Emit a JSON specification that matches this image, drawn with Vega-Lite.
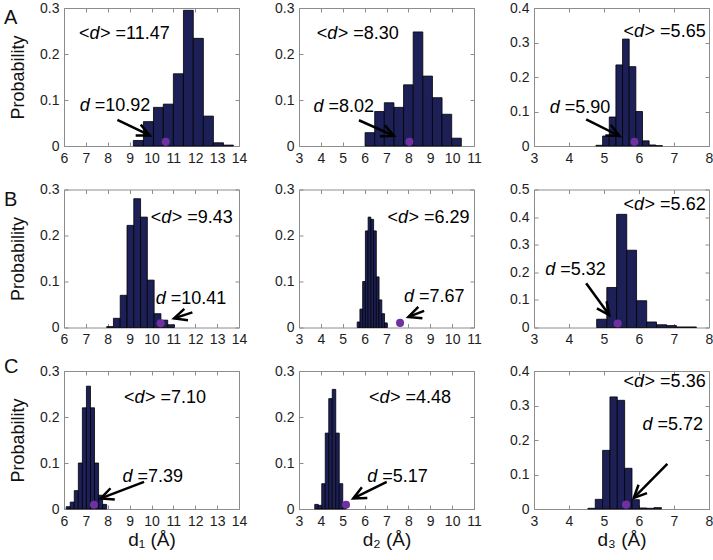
{
"$schema": "https://vega.github.io/schema/vega-lite/v6.json",
"background": "white",
"padding": {"left": 3, "top": 0, "right": 0, "bottom": 0},
"datasets": {
"bars": [
{"p":"A1","x0":9.17,"x1":9.63,"prob":0.012},{"p":"A1","x0":9.63,"x1":10.09,"prob":0.053},{"p":"A1","x0":10.09,"x1":10.54,"prob":0.084},{"p":"A1","x0":10.54,"x1":11.0,"prob":0.091},{"p":"A1","x0":11.0,"x1":11.46,"prob":0.157},{"p":"A1","x0":11.46,"x1":11.91,"prob":0.295},{"p":"A1","x0":11.91,"x1":12.37,"prob":0.234},{"p":"A1","x0":12.37,"x1":12.83,"prob":0.065},{"p":"A1","x0":12.83,"x1":13.29,"prob":0.007},{"p":"A1","x0":13.29,"x1":13.74,"prob":0.002},
{"p":"A2","x0":6.02,"x1":6.46,"prob":0.029},{"p":"A2","x0":6.46,"x1":6.9,"prob":0.075},{"p":"A2","x0":6.9,"x1":7.34,"prob":0.094},{"p":"A2","x0":7.34,"x1":7.78,"prob":0.084},{"p":"A2","x0":7.78,"x1":8.22,"prob":0.133},{"p":"A2","x0":8.22,"x1":8.66,"prob":0.248},{"p":"A2","x0":8.66,"x1":9.1,"prob":0.152},{"p":"A2","x0":9.1,"x1":9.54,"prob":0.105},{"p":"A2","x0":9.54,"x1":9.98,"prob":0.069},{"p":"A2","x0":9.98,"x1":10.42,"prob":0.017},
{"p":"A3","x0":4.77,"x1":4.96,"prob":0.002},{"p":"A3","x0":4.96,"x1":5.15,"prob":0.029},{"p":"A3","x0":5.15,"x1":5.34,"prob":0.084},{"p":"A3","x0":5.34,"x1":5.53,"prob":0.235},{"p":"A3","x0":5.53,"x1":5.72,"prob":0.31},{"p":"A3","x0":5.72,"x1":5.91,"prob":0.23},{"p":"A3","x0":5.91,"x1":6.1,"prob":0.1},{"p":"A3","x0":6.1,"x1":6.29,"prob":0.015},{"p":"A3","x0":6.29,"x1":6.48,"prob":0.003},{"p":"A3","x0":6.48,"x1":6.67,"prob":0.001},
{"p":"B1","x0":7.95,"x1":8.26,"prob":0.002},{"p":"B1","x0":8.26,"x1":8.57,"prob":0.02},{"p":"B1","x0":8.57,"x1":8.88,"prob":0.07},{"p":"B1","x0":8.88,"x1":9.19,"prob":0.222},{"p":"B1","x0":9.19,"x1":9.5,"prob":0.28},{"p":"B1","x0":9.5,"x1":9.81,"prob":0.24},{"p":"B1","x0":9.81,"x1":10.12,"prob":0.103},{"p":"B1","x0":10.12,"x1":10.43,"prob":0.03},{"p":"B1","x0":10.43,"x1":10.74,"prob":0.016},{"p":"B1","x0":10.74,"x1":11.05,"prob":0.006},
{"p":"B2","x0":5.66,"x1":5.785,"prob":0.012},{"p":"B2","x0":5.785,"x1":5.91,"prob":0.04},{"p":"B2","x0":5.91,"x1":6.035,"prob":0.1},{"p":"B2","x0":6.035,"x1":6.16,"prob":0.21},{"p":"B2","x0":6.16,"x1":6.285,"prob":0.24},{"p":"B2","x0":6.285,"x1":6.41,"prob":0.235},{"p":"B2","x0":6.41,"x1":6.535,"prob":0.21},{"p":"B2","x0":6.535,"x1":6.66,"prob":0.11},{"p":"B2","x0":6.66,"x1":6.785,"prob":0.06},{"p":"B2","x0":6.785,"x1":6.91,"prob":0.03},{"p":"B2","x0":6.91,"x1":7.035,"prob":0.01},
{"p":"B3","x0":4.79,"x1":5.08,"prob":0.03},{"p":"B3","x0":5.08,"x1":5.36,"prob":0.145},{"p":"B3","x0":5.36,"x1":5.65,"prob":0.41},{"p":"B3","x0":5.65,"x1":5.93,"prob":0.28},{"p":"B3","x0":5.93,"x1":6.22,"prob":0.097},{"p":"B3","x0":6.22,"x1":6.5,"prob":0.02},{"p":"B3","x0":6.5,"x1":6.79,"prob":0.01},{"p":"B3","x0":6.79,"x1":7.07,"prob":0.007},{"p":"B3","x0":7.07,"x1":7.36,"prob":0.002},{"p":"B3","x0":7.36,"x1":7.64,"prob":0.002},
{"p":"C1","x0":6.1,"x1":6.285,"prob":0.005},{"p":"C1","x0":6.285,"x1":6.47,"prob":0.015},{"p":"C1","x0":6.47,"x1":6.655,"prob":0.04},{"p":"C1","x0":6.655,"x1":6.84,"prob":0.1},{"p":"C1","x0":6.84,"x1":7.025,"prob":0.22},{"p":"C1","x0":7.025,"x1":7.21,"prob":0.267},{"p":"C1","x0":7.21,"x1":7.395,"prob":0.22},{"p":"C1","x0":7.395,"x1":7.58,"prob":0.1},{"p":"C1","x0":7.58,"x1":7.765,"prob":0.03},{"p":"C1","x0":7.765,"x1":7.95,"prob":0.01},
{"p":"C2","x0":3.72,"x1":3.88,"prob":0.01},{"p":"C2","x0":3.88,"x1":4.04,"prob":0.008},{"p":"C2","x0":4.04,"x1":4.2,"prob":0.055},{"p":"C2","x0":4.2,"x1":4.36,"prob":0.165},{"p":"C2","x0":4.36,"x1":4.52,"prob":0.24},{"p":"C2","x0":4.52,"x1":4.68,"prob":0.26},{"p":"C2","x0":4.68,"x1":4.84,"prob":0.165},{"p":"C2","x0":4.84,"x1":5.0,"prob":0.055},{"p":"C2","x0":5.0,"x1":5.16,"prob":0.01},
{"p":"C3","x0":4.54,"x1":4.75,"prob":0.002},{"p":"C3","x0":4.75,"x1":4.96,"prob":0.028},{"p":"C3","x0":4.96,"x1":5.17,"prob":0.17},{"p":"C3","x0":5.17,"x1":5.38,"prob":0.325},{"p":"C3","x0":5.38,"x1":5.59,"prob":0.315},{"p":"C3","x0":5.59,"x1":5.8,"prob":0.118},{"p":"C3","x0":5.8,"x1":6.01,"prob":0.027},{"p":"C3","x0":6.01,"x1":6.22,"prob":0.003},{"p":"C3","x0":6.22,"x1":6.43,"prob":0.002},{"p":"C3","x0":6.43,"x1":6.64,"prob":0.004}
],
"dots": [
{"p":"A1","x":10.65,"y":0.009},{"p":"A2","x":8.05,"y":0.009},{"p":"A3","x":5.87,"y":0.012},
{"p":"B1","x":10.42,"y":0.009},{"p":"B2","x":7.62,"y":0.01},{"p":"B3","x":5.39,"y":0.0146},
{"p":"C1","x":7.37,"y":0.0094},{"p":"C2","x":5.15,"y":0.0094},{"p":"C3","x":5.63,"y":0.0126}
],
"arrows": [
{"p":"A1","xs":8.44,"ys":0.057,"xt":9.92,"yt":0.023},
{"p":"A2","xs":5.74,"ys":0.056,"xt":7.34,"yt":0.022},
{"p":"A3","xs":4.49,"ys":0.0775,"xt":5.44,"yt":0.029},
{"p":"B1","xs":11.87,"ys":0.033,"xt":11.03,"yt":0.0197},
{"p":"B2","xs":8.72,"ys":0.036,"xt":8.0,"yt":0.023},
{"p":"B3","xs":4.49,"ys":0.16,"xt":5.15,"yt":0.045},
{"p":"C1","xs":9.66,"ys":0.059,"xt":7.68,"yt":0.023},
{"p":"C2","xs":7.01,"ys":0.059,"xt":5.48,"yt":0.023},
{"p":"C3","xs":6.81,"ys":0.131,"xt":5.85,"yt":0.032}
],
"notes": [
{"p":"A1","kind":"mean","x":6.69,"y":0.2435,"v":"> =11.47"},{"p":"A1","kind":"obs","x":6.72,"y":0.087,"v":"=10.92"},
{"p":"A2","kind":"mean","x":3.81,"y":0.243,"v":"> =8.30"},{"p":"A2","kind":"obs","x":3.66,"y":0.085,"v":"=8.02"},
{"p":"A3","kind":"mean","x":5.56,"y":0.329,"v":"> =5.65"},{"p":"A3","kind":"obs","x":3.45,"y":0.111,"v":"=5.90"},
{"p":"B1","kind":"mean","x":9.96,"y":0.238,"v":"> =9.43"},{"p":"B1","kind":"obs","x":10.19,"y":0.063,"v":"=10.41"},
{"p":"B2","kind":"mean","x":7.04,"y":0.237,"v":"> =6.29"},{"p":"B2","kind":"obs","x":7.8,"y":0.067,"v":"=7.67"},
{"p":"B3","kind":"mean","x":5.56,"y":0.443,"v":"> =5.62"},{"p":"B3","kind":"obs","x":3.32,"y":0.209,"v":"=5.32"},
{"p":"C1","kind":"mean","x":8.74,"y":0.242,"v":"> =7.10"},{"p":"C1","kind":"obs","x":8.67,"y":0.0687,"v":"=7.39"},
{"p":"C2","kind":"mean","x":6.2,"y":0.242,"v":"> =4.48"},{"p":"C2","kind":"obs","x":6.12,"y":0.07,"v":"=5.17"},
{"p":"C3","kind":"mean","x":5.56,"y":0.368,"v":"> =5.36"},{"p":"C3","kind":"obs","x":6.1,"y":0.244,"v":"=5.72"}
]
},
"columns": 3,
"spacing": {"row": 43.5, "column": 60},
"bounds": "flush",
"concat": [
{"width":175,"height":138,
 "title":{"text":"A","dx":-60,"dy":47,"baseline":"alphabetic"},
 "layer":[
  {"data":{"name":"bars"},"transform":[{"filter":"datum.p==='A1'"}],"mark":{"type":"bar","fill":"#1c2057","stroke":"#000000","strokeWidth":0.8},
   "encoding":{"x":{"field":"x0","type":"quantitative","scale":{"domain":[6,14],"nice":false,"zero":false},"axis":{"orient":"bottom","values":[6,7,8,9,10,11,12,13,14],"format":"~g","title":null}},"x2":{"field":"x1"},
   "y":{"field":"prob","type":"quantitative","scale":{"domain":[0,0.3],"nice":false},"axis":{"orient":"left","values":[0,0.1,0.2,0.3],"format":"~g","title":"Probability"}},"y2":{"datum":0}}},
  {"data":{"name":"dots"},"transform":[{"filter":"datum.p==='A1'"}],"mark":{"type":"point","filled":true,"color":"#7030a0","size":65,"opacity":1},
   "encoding":{"x":{"field":"x","type":"quantitative","axis":{"orient":"top","values":[6,7,8,9,10,11,12,13,14],"labels":false,"title":null}},"y":{"field":"y","type":"quantitative","axis":{"orient":"right","values":[0,0.1,0.2,0.3],"labels":false,"title":null}}}},
  {"data":{"name":"arrows"},"transform":[{"filter":"datum.p==='A1'"}],"mark":{"type":"rule","color":"#000000","strokeWidth":2.5},
   "encoding":{"x":{"field":"xs","type":"quantitative","axis":null},"y":{"field":"ys","type":"quantitative","axis":null},"x2":{"field":"xt"},"y2":{"field":"yt"}}},
  {"data":{"name":"arrows"},"transform":[{"filter":"datum.p==='A1'"}],"mark":{"type":"point","shape":"M-1,-0.47L0,0L-1,0.47","angle":25,"filled":false,"color":"#000000","strokeWidth":2.5,"size":650,"opacity":1},
   "encoding":{"x":{"field":"xt","type":"quantitative","axis":null},"y":{"field":"yt","type":"quantitative","axis":null}}},
  {"data":{"name":"notes"},"transform":[{"filter":"datum.p==='A1' && datum.kind==='mean'"}],"mark":{"type":"text","align":"left","baseline":"middle","fontSize":18,"color":"#000000"},
   "encoding":{"x":{"field":"x","type":"quantitative","axis":null},"y":{"field":"y","type":"quantitative","axis":null},"text":{"value":"<"}}},
  {"data":{"name":"notes"},"transform":[{"filter":"datum.p==='A1' && datum.kind==='mean'"}],"mark":{"type":"text","align":"left","baseline":"middle","fontSize":18,"fontStyle":"italic","dx":10.5,"color":"#000000"},
   "encoding":{"x":{"field":"x","type":"quantitative","axis":null},"y":{"field":"y","type":"quantitative","axis":null},"text":{"value":"d"}}},
  {"data":{"name":"notes"},"transform":[{"filter":"datum.p==='A1' && datum.kind==='mean'"}],"mark":{"type":"text","align":"left","baseline":"middle","fontSize":18,"dx":21,"color":"#000000"},
   "encoding":{"x":{"field":"x","type":"quantitative","axis":null},"y":{"field":"y","type":"quantitative","axis":null},"text":{"field":"v"}}},
  {"data":{"name":"notes"},"transform":[{"filter":"datum.p==='A1' && datum.kind==='obs'"}],"mark":{"type":"text","align":"left","baseline":"middle","fontSize":18,"fontStyle":"italic","color":"#000000"},
   "encoding":{"x":{"field":"x","type":"quantitative","axis":null},"y":{"field":"y","type":"quantitative","axis":null},"text":{"value":"d"}}},
  {"data":{"name":"notes"},"transform":[{"filter":"datum.p==='A1' && datum.kind==='obs'"}],"mark":{"type":"text","align":"left","baseline":"middle","fontSize":18,"dx":15,"color":"#000000"},
   "encoding":{"x":{"field":"x","type":"quantitative","axis":null},"y":{"field":"y","type":"quantitative","axis":null},"text":{"field":"v"}}}
 ],
 "resolve":{"axis":{"x":"independent","y":"independent"}}},
{"width":175,"height":138,
 "layer":[
  {"data":{"name":"bars"},"transform":[{"filter":"datum.p==='A2'"}],"mark":{"type":"bar","fill":"#1c2057","stroke":"#000000","strokeWidth":0.8},
   "encoding":{"x":{"field":"x0","type":"quantitative","scale":{"domain":[3,11],"nice":false,"zero":false},"axis":{"orient":"bottom","values":[3,4,5,6,7,8,9,10,11],"format":"~g","title":null}},"x2":{"field":"x1"},
   "y":{"field":"prob","type":"quantitative","scale":{"domain":[0,0.3],"nice":false},"axis":{"orient":"left","values":[0,0.1,0.2,0.3],"format":"~g","title":null}},"y2":{"datum":0}}},
  {"data":{"name":"dots"},"transform":[{"filter":"datum.p==='A2'"}],"mark":{"type":"point","filled":true,"color":"#7030a0","size":65,"opacity":1},
   "encoding":{"x":{"field":"x","type":"quantitative","axis":{"orient":"top","values":[3,4,5,6,7,8,9,10,11],"labels":false,"title":null}},"y":{"field":"y","type":"quantitative","axis":{"orient":"right","values":[0,0.1,0.2,0.3],"labels":false,"title":null}}}},
  {"data":{"name":"arrows"},"transform":[{"filter":"datum.p==='A2'"}],"mark":{"type":"rule","color":"#000000","strokeWidth":2.5},
   "encoding":{"x":{"field":"xs","type":"quantitative","axis":null},"y":{"field":"ys","type":"quantitative","axis":null},"x2":{"field":"xt"},"y2":{"field":"yt"}}},
  {"data":{"name":"arrows"},"transform":[{"filter":"datum.p==='A2'"}],"mark":{"type":"point","shape":"M-1,-0.47L0,0L-1,0.47","angle":24,"filled":false,"color":"#000000","strokeWidth":2.5,"size":650,"opacity":1},
   "encoding":{"x":{"field":"xt","type":"quantitative","axis":null},"y":{"field":"yt","type":"quantitative","axis":null}}},
  {"data":{"name":"notes"},"transform":[{"filter":"datum.p==='A2' && datum.kind==='mean'"}],"mark":{"type":"text","align":"left","baseline":"middle","fontSize":18,"color":"#000000"},
   "encoding":{"x":{"field":"x","type":"quantitative","axis":null},"y":{"field":"y","type":"quantitative","axis":null},"text":{"value":"<"}}},
  {"data":{"name":"notes"},"transform":[{"filter":"datum.p==='A2' && datum.kind==='mean'"}],"mark":{"type":"text","align":"left","baseline":"middle","fontSize":18,"fontStyle":"italic","dx":10.5,"color":"#000000"},
   "encoding":{"x":{"field":"x","type":"quantitative","axis":null},"y":{"field":"y","type":"quantitative","axis":null},"text":{"value":"d"}}},
  {"data":{"name":"notes"},"transform":[{"filter":"datum.p==='A2' && datum.kind==='mean'"}],"mark":{"type":"text","align":"left","baseline":"middle","fontSize":18,"dx":21,"color":"#000000"},
   "encoding":{"x":{"field":"x","type":"quantitative","axis":null},"y":{"field":"y","type":"quantitative","axis":null},"text":{"field":"v"}}},
  {"data":{"name":"notes"},"transform":[{"filter":"datum.p==='A2' && datum.kind==='obs'"}],"mark":{"type":"text","align":"left","baseline":"middle","fontSize":18,"fontStyle":"italic","color":"#000000"},
   "encoding":{"x":{"field":"x","type":"quantitative","axis":null},"y":{"field":"y","type":"quantitative","axis":null},"text":{"value":"d"}}},
  {"data":{"name":"notes"},"transform":[{"filter":"datum.p==='A2' && datum.kind==='obs'"}],"mark":{"type":"text","align":"left","baseline":"middle","fontSize":18,"dx":15,"color":"#000000"},
   "encoding":{"x":{"field":"x","type":"quantitative","axis":null},"y":{"field":"y","type":"quantitative","axis":null},"text":{"field":"v"}}}
 ],
 "resolve":{"axis":{"x":"independent","y":"independent"}}},
{"width":175,"height":138,
 "layer":[
  {"data":{"name":"bars"},"transform":[{"filter":"datum.p==='A3'"}],"mark":{"type":"bar","fill":"#1c2057","stroke":"#000000","strokeWidth":0.8},
   "encoding":{"x":{"field":"x0","type":"quantitative","scale":{"domain":[3,8],"nice":false,"zero":false},"axis":{"orient":"bottom","values":[3,4,5,6,7,8],"format":"~g","title":null}},"x2":{"field":"x1"},
   "y":{"field":"prob","type":"quantitative","scale":{"domain":[0,0.4],"nice":false},"axis":{"orient":"left","values":[0,0.1,0.2,0.3,0.4],"format":"~g","title":null}},"y2":{"datum":0}}},
  {"data":{"name":"dots"},"transform":[{"filter":"datum.p==='A3'"}],"mark":{"type":"point","filled":true,"color":"#7030a0","size":65,"opacity":1},
   "encoding":{"x":{"field":"x","type":"quantitative","axis":{"orient":"top","values":[3,4,5,6,7,8],"labels":false,"title":null}},"y":{"field":"y","type":"quantitative","axis":{"orient":"right","values":[0,0.1,0.2,0.3,0.4],"labels":false,"title":null}}}},
  {"data":{"name":"arrows"},"transform":[{"filter":"datum.p==='A3'"}],"mark":{"type":"rule","color":"#000000","strokeWidth":2.5},
   "encoding":{"x":{"field":"xs","type":"quantitative","axis":null},"y":{"field":"ys","type":"quantitative","axis":null},"x2":{"field":"xt"},"y2":{"field":"yt"}}},
  {"data":{"name":"arrows"},"transform":[{"filter":"datum.p==='A3'"}],"mark":{"type":"point","shape":"M-1,-0.47L0,0L-1,0.47","angle":27,"filled":false,"color":"#000000","strokeWidth":2.5,"size":650,"opacity":1},
   "encoding":{"x":{"field":"xt","type":"quantitative","axis":null},"y":{"field":"yt","type":"quantitative","axis":null}}},
  {"data":{"name":"notes"},"transform":[{"filter":"datum.p==='A3' && datum.kind==='mean'"}],"mark":{"type":"text","align":"left","baseline":"middle","fontSize":18,"color":"#000000"},
   "encoding":{"x":{"field":"x","type":"quantitative","axis":null},"y":{"field":"y","type":"quantitative","axis":null},"text":{"value":"<"}}},
  {"data":{"name":"notes"},"transform":[{"filter":"datum.p==='A3' && datum.kind==='mean'"}],"mark":{"type":"text","align":"left","baseline":"middle","fontSize":18,"fontStyle":"italic","dx":10.5,"color":"#000000"},
   "encoding":{"x":{"field":"x","type":"quantitative","axis":null},"y":{"field":"y","type":"quantitative","axis":null},"text":{"value":"d"}}},
  {"data":{"name":"notes"},"transform":[{"filter":"datum.p==='A3' && datum.kind==='mean'"}],"mark":{"type":"text","align":"left","baseline":"middle","fontSize":18,"dx":21,"color":"#000000"},
   "encoding":{"x":{"field":"x","type":"quantitative","axis":null},"y":{"field":"y","type":"quantitative","axis":null},"text":{"field":"v"}}},
  {"data":{"name":"notes"},"transform":[{"filter":"datum.p==='A3' && datum.kind==='obs'"}],"mark":{"type":"text","align":"left","baseline":"middle","fontSize":18,"fontStyle":"italic","color":"#000000"},
   "encoding":{"x":{"field":"x","type":"quantitative","axis":null},"y":{"field":"y","type":"quantitative","axis":null},"text":{"value":"d"}}},
  {"data":{"name":"notes"},"transform":[{"filter":"datum.p==='A3' && datum.kind==='obs'"}],"mark":{"type":"text","align":"left","baseline":"middle","fontSize":18,"dx":15,"color":"#000000"},
   "encoding":{"x":{"field":"x","type":"quantitative","axis":null},"y":{"field":"y","type":"quantitative","axis":null},"text":{"field":"v"}}}
 ],
 "resolve":{"axis":{"x":"independent","y":"independent"}}},
{"width":175,"height":138,
 "title":{"text":"B","dx":-60,"dy":47,"baseline":"alphabetic"},
 "layer":[
  {"data":{"name":"bars"},"transform":[{"filter":"datum.p==='B1'"}],"mark":{"type":"bar","fill":"#1c2057","stroke":"#000000","strokeWidth":0.8},
   "encoding":{"x":{"field":"x0","type":"quantitative","scale":{"domain":[6,14],"nice":false,"zero":false},"axis":{"orient":"bottom","values":[6,7,8,9,10,11,12,13,14],"format":"~g","title":null}},"x2":{"field":"x1"},
   "y":{"field":"prob","type":"quantitative","scale":{"domain":[0,0.3],"nice":false},"axis":{"orient":"left","values":[0,0.1,0.2,0.3],"format":"~g","title":"Probability"}},"y2":{"datum":0}}},
  {"data":{"name":"dots"},"transform":[{"filter":"datum.p==='B1'"}],"mark":{"type":"point","filled":true,"color":"#7030a0","size":65,"opacity":1},
   "encoding":{"x":{"field":"x","type":"quantitative","axis":{"orient":"top","values":[6,7,8,9,10,11,12,13,14],"labels":false,"title":null}},"y":{"field":"y","type":"quantitative","axis":{"orient":"right","values":[0,0.1,0.2,0.3],"labels":false,"title":null}}}},
  {"data":{"name":"arrows"},"transform":[{"filter":"datum.p==='B1'"}],"mark":{"type":"rule","color":"#000000","strokeWidth":2.5},
   "encoding":{"x":{"field":"xs","type":"quantitative","axis":null},"y":{"field":"ys","type":"quantitative","axis":null},"x2":{"field":"xt"},"y2":{"field":"yt"}}},
  {"data":{"name":"arrows"},"transform":[{"filter":"datum.p==='B1'"}],"mark":{"type":"point","shape":"M-1,-0.47L0,0L-1,0.47","angle":162,"filled":false,"color":"#000000","strokeWidth":2.5,"size":650,"opacity":1},
   "encoding":{"x":{"field":"xt","type":"quantitative","axis":null},"y":{"field":"yt","type":"quantitative","axis":null}}},
  {"data":{"name":"notes"},"transform":[{"filter":"datum.p==='B1' && datum.kind==='mean'"}],"mark":{"type":"text","align":"left","baseline":"middle","fontSize":18,"color":"#000000"},
   "encoding":{"x":{"field":"x","type":"quantitative","axis":null},"y":{"field":"y","type":"quantitative","axis":null},"text":{"value":"<"}}},
  {"data":{"name":"notes"},"transform":[{"filter":"datum.p==='B1' && datum.kind==='mean'"}],"mark":{"type":"text","align":"left","baseline":"middle","fontSize":18,"fontStyle":"italic","dx":10.5,"color":"#000000"},
   "encoding":{"x":{"field":"x","type":"quantitative","axis":null},"y":{"field":"y","type":"quantitative","axis":null},"text":{"value":"d"}}},
  {"data":{"name":"notes"},"transform":[{"filter":"datum.p==='B1' && datum.kind==='mean'"}],"mark":{"type":"text","align":"left","baseline":"middle","fontSize":18,"dx":21,"color":"#000000"},
   "encoding":{"x":{"field":"x","type":"quantitative","axis":null},"y":{"field":"y","type":"quantitative","axis":null},"text":{"field":"v"}}},
  {"data":{"name":"notes"},"transform":[{"filter":"datum.p==='B1' && datum.kind==='obs'"}],"mark":{"type":"text","align":"left","baseline":"middle","fontSize":18,"fontStyle":"italic","color":"#000000"},
   "encoding":{"x":{"field":"x","type":"quantitative","axis":null},"y":{"field":"y","type":"quantitative","axis":null},"text":{"value":"d"}}},
  {"data":{"name":"notes"},"transform":[{"filter":"datum.p==='B1' && datum.kind==='obs'"}],"mark":{"type":"text","align":"left","baseline":"middle","fontSize":18,"dx":15,"color":"#000000"},
   "encoding":{"x":{"field":"x","type":"quantitative","axis":null},"y":{"field":"y","type":"quantitative","axis":null},"text":{"field":"v"}}}
 ],
 "resolve":{"axis":{"x":"independent","y":"independent"}}},
{"width":175,"height":138,
 "layer":[
  {"data":{"name":"bars"},"transform":[{"filter":"datum.p==='B2'"}],"mark":{"type":"bar","fill":"#1c2057","stroke":"#000000","strokeWidth":0.8},
   "encoding":{"x":{"field":"x0","type":"quantitative","scale":{"domain":[3,11],"nice":false,"zero":false},"axis":{"orient":"bottom","values":[3,4,5,6,7,8,9,10,11],"format":"~g","title":null}},"x2":{"field":"x1"},
   "y":{"field":"prob","type":"quantitative","scale":{"domain":[0,0.3],"nice":false},"axis":{"orient":"left","values":[0,0.1,0.2,0.3],"format":"~g","title":null}},"y2":{"datum":0}}},
  {"data":{"name":"dots"},"transform":[{"filter":"datum.p==='B2'"}],"mark":{"type":"point","filled":true,"color":"#7030a0","size":65,"opacity":1},
   "encoding":{"x":{"field":"x","type":"quantitative","axis":{"orient":"top","values":[3,4,5,6,7,8,9,10,11],"labels":false,"title":null}},"y":{"field":"y","type":"quantitative","axis":{"orient":"right","values":[0,0.1,0.2,0.3],"labels":false,"title":null}}}},
  {"data":{"name":"arrows"},"transform":[{"filter":"datum.p==='B2'"}],"mark":{"type":"rule","color":"#000000","strokeWidth":2.5},
   "encoding":{"x":{"field":"xs","type":"quantitative","axis":null},"y":{"field":"ys","type":"quantitative","axis":null},"x2":{"field":"xt"},"y2":{"field":"yt"}}},
  {"data":{"name":"arrows"},"transform":[{"filter":"datum.p==='B2'"}],"mark":{"type":"point","shape":"M-1,-0.47L0,0L-1,0.47","angle":160,"filled":false,"color":"#000000","strokeWidth":2.5,"size":650,"opacity":1},
   "encoding":{"x":{"field":"xt","type":"quantitative","axis":null},"y":{"field":"yt","type":"quantitative","axis":null}}},
  {"data":{"name":"notes"},"transform":[{"filter":"datum.p==='B2' && datum.kind==='mean'"}],"mark":{"type":"text","align":"left","baseline":"middle","fontSize":18,"color":"#000000"},
   "encoding":{"x":{"field":"x","type":"quantitative","axis":null},"y":{"field":"y","type":"quantitative","axis":null},"text":{"value":"<"}}},
  {"data":{"name":"notes"},"transform":[{"filter":"datum.p==='B2' && datum.kind==='mean'"}],"mark":{"type":"text","align":"left","baseline":"middle","fontSize":18,"fontStyle":"italic","dx":10.5,"color":"#000000"},
   "encoding":{"x":{"field":"x","type":"quantitative","axis":null},"y":{"field":"y","type":"quantitative","axis":null},"text":{"value":"d"}}},
  {"data":{"name":"notes"},"transform":[{"filter":"datum.p==='B2' && datum.kind==='mean'"}],"mark":{"type":"text","align":"left","baseline":"middle","fontSize":18,"dx":21,"color":"#000000"},
   "encoding":{"x":{"field":"x","type":"quantitative","axis":null},"y":{"field":"y","type":"quantitative","axis":null},"text":{"field":"v"}}},
  {"data":{"name":"notes"},"transform":[{"filter":"datum.p==='B2' && datum.kind==='obs'"}],"mark":{"type":"text","align":"left","baseline":"middle","fontSize":18,"fontStyle":"italic","color":"#000000"},
   "encoding":{"x":{"field":"x","type":"quantitative","axis":null},"y":{"field":"y","type":"quantitative","axis":null},"text":{"value":"d"}}},
  {"data":{"name":"notes"},"transform":[{"filter":"datum.p==='B2' && datum.kind==='obs'"}],"mark":{"type":"text","align":"left","baseline":"middle","fontSize":18,"dx":15,"color":"#000000"},
   "encoding":{"x":{"field":"x","type":"quantitative","axis":null},"y":{"field":"y","type":"quantitative","axis":null},"text":{"field":"v"}}}
 ],
 "resolve":{"axis":{"x":"independent","y":"independent"}}},
{"width":175,"height":138,
 "layer":[
  {"data":{"name":"bars"},"transform":[{"filter":"datum.p==='B3'"}],"mark":{"type":"bar","fill":"#1c2057","stroke":"#000000","strokeWidth":0.8},
   "encoding":{"x":{"field":"x0","type":"quantitative","scale":{"domain":[3,8],"nice":false,"zero":false},"axis":{"orient":"bottom","values":[3,4,5,6,7,8],"format":"~g","title":null}},"x2":{"field":"x1"},
   "y":{"field":"prob","type":"quantitative","scale":{"domain":[0,0.5],"nice":false},"axis":{"orient":"left","values":[0,0.1,0.2,0.3,0.4,0.5],"format":"~g","title":null}},"y2":{"datum":0}}},
  {"data":{"name":"dots"},"transform":[{"filter":"datum.p==='B3'"}],"mark":{"type":"point","filled":true,"color":"#7030a0","size":65,"opacity":1},
   "encoding":{"x":{"field":"x","type":"quantitative","axis":{"orient":"top","values":[3,4,5,6,7,8],"labels":false,"title":null}},"y":{"field":"y","type":"quantitative","axis":{"orient":"right","values":[0,0.1,0.2,0.3,0.4,0.5],"labels":false,"title":null}}}},
  {"data":{"name":"arrows"},"transform":[{"filter":"datum.p==='B3'"}],"mark":{"type":"rule","color":"#000000","strokeWidth":2.5},
   "encoding":{"x":{"field":"xs","type":"quantitative","axis":null},"y":{"field":"ys","type":"quantitative","axis":null},"x2":{"field":"xt"},"y2":{"field":"yt"}}},
  {"data":{"name":"arrows"},"transform":[{"filter":"datum.p==='B3'"}],"mark":{"type":"point","shape":"M-1,-0.47L0,0L-1,0.47","angle":54,"filled":false,"color":"#000000","strokeWidth":2.5,"size":650,"opacity":1},
   "encoding":{"x":{"field":"xt","type":"quantitative","axis":null},"y":{"field":"yt","type":"quantitative","axis":null}}},
  {"data":{"name":"notes"},"transform":[{"filter":"datum.p==='B3' && datum.kind==='mean'"}],"mark":{"type":"text","align":"left","baseline":"middle","fontSize":18,"color":"#000000"},
   "encoding":{"x":{"field":"x","type":"quantitative","axis":null},"y":{"field":"y","type":"quantitative","axis":null},"text":{"value":"<"}}},
  {"data":{"name":"notes"},"transform":[{"filter":"datum.p==='B3' && datum.kind==='mean'"}],"mark":{"type":"text","align":"left","baseline":"middle","fontSize":18,"fontStyle":"italic","dx":10.5,"color":"#000000"},
   "encoding":{"x":{"field":"x","type":"quantitative","axis":null},"y":{"field":"y","type":"quantitative","axis":null},"text":{"value":"d"}}},
  {"data":{"name":"notes"},"transform":[{"filter":"datum.p==='B3' && datum.kind==='mean'"}],"mark":{"type":"text","align":"left","baseline":"middle","fontSize":18,"dx":21,"color":"#000000"},
   "encoding":{"x":{"field":"x","type":"quantitative","axis":null},"y":{"field":"y","type":"quantitative","axis":null},"text":{"field":"v"}}},
  {"data":{"name":"notes"},"transform":[{"filter":"datum.p==='B3' && datum.kind==='obs'"}],"mark":{"type":"text","align":"left","baseline":"middle","fontSize":18,"fontStyle":"italic","color":"#000000"},
   "encoding":{"x":{"field":"x","type":"quantitative","axis":null},"y":{"field":"y","type":"quantitative","axis":null},"text":{"value":"d"}}},
  {"data":{"name":"notes"},"transform":[{"filter":"datum.p==='B3' && datum.kind==='obs'"}],"mark":{"type":"text","align":"left","baseline":"middle","fontSize":18,"dx":15,"color":"#000000"},
   "encoding":{"x":{"field":"x","type":"quantitative","axis":null},"y":{"field":"y","type":"quantitative","axis":null},"text":{"field":"v"}}}
 ],
 "resolve":{"axis":{"x":"independent","y":"independent"}}},
{"width":175,"height":138,
 "title":{"text":"C","dx":-60,"dy":33,"baseline":"alphabetic"},
 "layer":[
  {"data":{"name":"bars"},"transform":[{"filter":"datum.p==='C1'"}],"mark":{"type":"bar","fill":"#1c2057","stroke":"#000000","strokeWidth":0.8},
   "encoding":{"x":{"field":"x0","type":"quantitative","scale":{"domain":[6,14],"nice":false,"zero":false},"axis":{"orient":"bottom","values":[6,7,8,9,10,11,12,13,14],"format":"~g","title":"d₁ (Å)"}},"x2":{"field":"x1"},
   "y":{"field":"prob","type":"quantitative","scale":{"domain":[0,0.3],"nice":false},"axis":{"orient":"left","values":[0,0.1,0.2,0.3],"format":"~g","title":"Probability"}},"y2":{"datum":0}}},
  {"data":{"name":"dots"},"transform":[{"filter":"datum.p==='C1'"}],"mark":{"type":"point","filled":true,"color":"#7030a0","size":65,"opacity":1},
   "encoding":{"x":{"field":"x","type":"quantitative","axis":{"orient":"top","values":[6,7,8,9,10,11,12,13,14],"labels":false,"title":null}},"y":{"field":"y","type":"quantitative","axis":{"orient":"right","values":[0,0.1,0.2,0.3],"labels":false,"title":null}}}},
  {"data":{"name":"arrows"},"transform":[{"filter":"datum.p==='C1'"}],"mark":{"type":"rule","color":"#000000","strokeWidth":2.5},
   "encoding":{"x":{"field":"xs","type":"quantitative","axis":null},"y":{"field":"ys","type":"quantitative","axis":null},"x2":{"field":"xt"},"y2":{"field":"yt"}}},
  {"data":{"name":"arrows"},"transform":[{"filter":"datum.p==='C1'"}],"mark":{"type":"point","shape":"M-1,-0.47L0,0L-1,0.47","angle":159,"filled":false,"color":"#000000","strokeWidth":2.5,"size":650,"opacity":1},
   "encoding":{"x":{"field":"xt","type":"quantitative","axis":null},"y":{"field":"yt","type":"quantitative","axis":null}}},
  {"data":{"name":"notes"},"transform":[{"filter":"datum.p==='C1' && datum.kind==='mean'"}],"mark":{"type":"text","align":"left","baseline":"middle","fontSize":18,"color":"#000000"},
   "encoding":{"x":{"field":"x","type":"quantitative","axis":null},"y":{"field":"y","type":"quantitative","axis":null},"text":{"value":"<"}}},
  {"data":{"name":"notes"},"transform":[{"filter":"datum.p==='C1' && datum.kind==='mean'"}],"mark":{"type":"text","align":"left","baseline":"middle","fontSize":18,"fontStyle":"italic","dx":10.5,"color":"#000000"},
   "encoding":{"x":{"field":"x","type":"quantitative","axis":null},"y":{"field":"y","type":"quantitative","axis":null},"text":{"value":"d"}}},
  {"data":{"name":"notes"},"transform":[{"filter":"datum.p==='C1' && datum.kind==='mean'"}],"mark":{"type":"text","align":"left","baseline":"middle","fontSize":18,"dx":21,"color":"#000000"},
   "encoding":{"x":{"field":"x","type":"quantitative","axis":null},"y":{"field":"y","type":"quantitative","axis":null},"text":{"field":"v"}}},
  {"data":{"name":"notes"},"transform":[{"filter":"datum.p==='C1' && datum.kind==='obs'"}],"mark":{"type":"text","align":"left","baseline":"middle","fontSize":18,"fontStyle":"italic","color":"#000000"},
   "encoding":{"x":{"field":"x","type":"quantitative","axis":null},"y":{"field":"y","type":"quantitative","axis":null},"text":{"value":"d"}}},
  {"data":{"name":"notes"},"transform":[{"filter":"datum.p==='C1' && datum.kind==='obs'"}],"mark":{"type":"text","align":"left","baseline":"middle","fontSize":18,"dx":15,"color":"#000000"},
   "encoding":{"x":{"field":"x","type":"quantitative","axis":null},"y":{"field":"y","type":"quantitative","axis":null},"text":{"field":"v"}}}
 ],
 "resolve":{"axis":{"x":"independent","y":"independent"}}},
{"width":175,"height":138,
 "layer":[
  {"data":{"name":"bars"},"transform":[{"filter":"datum.p==='C2'"}],"mark":{"type":"bar","fill":"#1c2057","stroke":"#000000","strokeWidth":0.8},
   "encoding":{"x":{"field":"x0","type":"quantitative","scale":{"domain":[3,11],"nice":false,"zero":false},"axis":{"orient":"bottom","values":[3,4,5,6,7,8,9,10,11],"format":"~g","title":"d₂ (Å)"}},"x2":{"field":"x1"},
   "y":{"field":"prob","type":"quantitative","scale":{"domain":[0,0.3],"nice":false},"axis":{"orient":"left","values":[0,0.1,0.2,0.3],"format":"~g","title":null}},"y2":{"datum":0}}},
  {"data":{"name":"dots"},"transform":[{"filter":"datum.p==='C2'"}],"mark":{"type":"point","filled":true,"color":"#7030a0","size":65,"opacity":1},
   "encoding":{"x":{"field":"x","type":"quantitative","axis":{"orient":"top","values":[3,4,5,6,7,8,9,10,11],"labels":false,"title":null}},"y":{"field":"y","type":"quantitative","axis":{"orient":"right","values":[0,0.1,0.2,0.3],"labels":false,"title":null}}}},
  {"data":{"name":"arrows"},"transform":[{"filter":"datum.p==='C2'"}],"mark":{"type":"rule","color":"#000000","strokeWidth":2.5},
   "encoding":{"x":{"field":"xs","type":"quantitative","axis":null},"y":{"field":"ys","type":"quantitative","axis":null},"x2":{"field":"xt"},"y2":{"field":"yt"}}},
  {"data":{"name":"arrows"},"transform":[{"filter":"datum.p==='C2'"}],"mark":{"type":"point","shape":"M-1,-0.47L0,0L-1,0.47","angle":153,"filled":false,"color":"#000000","strokeWidth":2.5,"size":650,"opacity":1},
   "encoding":{"x":{"field":"xt","type":"quantitative","axis":null},"y":{"field":"yt","type":"quantitative","axis":null}}},
  {"data":{"name":"notes"},"transform":[{"filter":"datum.p==='C2' && datum.kind==='mean'"}],"mark":{"type":"text","align":"left","baseline":"middle","fontSize":18,"color":"#000000"},
   "encoding":{"x":{"field":"x","type":"quantitative","axis":null},"y":{"field":"y","type":"quantitative","axis":null},"text":{"value":"<"}}},
  {"data":{"name":"notes"},"transform":[{"filter":"datum.p==='C2' && datum.kind==='mean'"}],"mark":{"type":"text","align":"left","baseline":"middle","fontSize":18,"fontStyle":"italic","dx":10.5,"color":"#000000"},
   "encoding":{"x":{"field":"x","type":"quantitative","axis":null},"y":{"field":"y","type":"quantitative","axis":null},"text":{"value":"d"}}},
  {"data":{"name":"notes"},"transform":[{"filter":"datum.p==='C2' && datum.kind==='mean'"}],"mark":{"type":"text","align":"left","baseline":"middle","fontSize":18,"dx":21,"color":"#000000"},
   "encoding":{"x":{"field":"x","type":"quantitative","axis":null},"y":{"field":"y","type":"quantitative","axis":null},"text":{"field":"v"}}},
  {"data":{"name":"notes"},"transform":[{"filter":"datum.p==='C2' && datum.kind==='obs'"}],"mark":{"type":"text","align":"left","baseline":"middle","fontSize":18,"fontStyle":"italic","color":"#000000"},
   "encoding":{"x":{"field":"x","type":"quantitative","axis":null},"y":{"field":"y","type":"quantitative","axis":null},"text":{"value":"d"}}},
  {"data":{"name":"notes"},"transform":[{"filter":"datum.p==='C2' && datum.kind==='obs'"}],"mark":{"type":"text","align":"left","baseline":"middle","fontSize":18,"dx":15,"color":"#000000"},
   "encoding":{"x":{"field":"x","type":"quantitative","axis":null},"y":{"field":"y","type":"quantitative","axis":null},"text":{"field":"v"}}}
 ],
 "resolve":{"axis":{"x":"independent","y":"independent"}}},
{"width":175,"height":138,
 "layer":[
  {"data":{"name":"bars"},"transform":[{"filter":"datum.p==='C3'"}],"mark":{"type":"bar","fill":"#1c2057","stroke":"#000000","strokeWidth":0.8},
   "encoding":{"x":{"field":"x0","type":"quantitative","scale":{"domain":[3,8],"nice":false,"zero":false},"axis":{"orient":"bottom","values":[3,4,5,6,7,8],"format":"~g","title":"d₃ (Å)"}},"x2":{"field":"x1"},
   "y":{"field":"prob","type":"quantitative","scale":{"domain":[0,0.4],"nice":false},"axis":{"orient":"left","values":[0,0.1,0.2,0.3,0.4],"format":"~g","title":null}},"y2":{"datum":0}}},
  {"data":{"name":"dots"},"transform":[{"filter":"datum.p==='C3'"}],"mark":{"type":"point","filled":true,"color":"#7030a0","size":65,"opacity":1},
   "encoding":{"x":{"field":"x","type":"quantitative","axis":{"orient":"top","values":[3,4,5,6,7,8],"labels":false,"title":null}},"y":{"field":"y","type":"quantitative","axis":{"orient":"right","values":[0,0.1,0.2,0.3,0.4],"labels":false,"title":null}}}},
  {"data":{"name":"arrows"},"transform":[{"filter":"datum.p==='C3'"}],"mark":{"type":"rule","color":"#000000","strokeWidth":2.5},
   "encoding":{"x":{"field":"xs","type":"quantitative","axis":null},"y":{"field":"ys","type":"quantitative","axis":null},"x2":{"field":"xt"},"y2":{"field":"yt"}}},
  {"data":{"name":"arrows"},"transform":[{"filter":"datum.p==='C3'"}],"mark":{"type":"point","shape":"M-1,-0.47L0,0L-1,0.47","angle":135,"filled":false,"color":"#000000","strokeWidth":2.5,"size":650,"opacity":1},
   "encoding":{"x":{"field":"xt","type":"quantitative","axis":null},"y":{"field":"yt","type":"quantitative","axis":null}}},
  {"data":{"name":"notes"},"transform":[{"filter":"datum.p==='C3' && datum.kind==='mean'"}],"mark":{"type":"text","align":"left","baseline":"middle","fontSize":18,"color":"#000000"},
   "encoding":{"x":{"field":"x","type":"quantitative","axis":null},"y":{"field":"y","type":"quantitative","axis":null},"text":{"value":"<"}}},
  {"data":{"name":"notes"},"transform":[{"filter":"datum.p==='C3' && datum.kind==='mean'"}],"mark":{"type":"text","align":"left","baseline":"middle","fontSize":18,"fontStyle":"italic","dx":10.5,"color":"#000000"},
   "encoding":{"x":{"field":"x","type":"quantitative","axis":null},"y":{"field":"y","type":"quantitative","axis":null},"text":{"value":"d"}}},
  {"data":{"name":"notes"},"transform":[{"filter":"datum.p==='C3' && datum.kind==='mean'"}],"mark":{"type":"text","align":"left","baseline":"middle","fontSize":18,"dx":21,"color":"#000000"},
   "encoding":{"x":{"field":"x","type":"quantitative","axis":null},"y":{"field":"y","type":"quantitative","axis":null},"text":{"field":"v"}}},
  {"data":{"name":"notes"},"transform":[{"filter":"datum.p==='C3' && datum.kind==='obs'"}],"mark":{"type":"text","align":"left","baseline":"middle","fontSize":18,"fontStyle":"italic","color":"#000000"},
   "encoding":{"x":{"field":"x","type":"quantitative","axis":null},"y":{"field":"y","type":"quantitative","axis":null},"text":{"value":"d"}}},
  {"data":{"name":"notes"},"transform":[{"filter":"datum.p==='C3' && datum.kind==='obs'"}],"mark":{"type":"text","align":"left","baseline":"middle","fontSize":18,"dx":15,"color":"#000000"},
   "encoding":{"x":{"field":"x","type":"quantitative","axis":null},"y":{"field":"y","type":"quantitative","axis":null},"text":{"field":"v"}}}
 ],
 "resolve":{"axis":{"x":"independent","y":"independent"}}}
],
"config": {
 "font": "Liberation Sans",
 "view": {"stroke": "#8c8c8c", "strokeWidth": 1},
 "axis": {"domain": false, "grid": false, "tickSize": -4, "tickColor": "#8c8c8c", "tickWidth": 1, "labelFont": "Liberation Sans", "labelFontSize": 14, "labelColor": "#1e1e1e", "labelPadding": 9, "labelFlush": false, "labelOverlap": false, "titleFont": "Liberation Sans", "titleFontSize": 18, "titleFontWeight": "normal", "titleColor": "#111111"},
 "axisX": {"titlePadding": 2, "titleFontSize": 19},
 "axisY": {"titlePadding": 12},
 "title": {"font": "Liberation Sans", "fontSize": 20, "fontWeight": "normal", "color": "#111111", "anchor": "start", "frame": "group", "offset": 0}
}
}
